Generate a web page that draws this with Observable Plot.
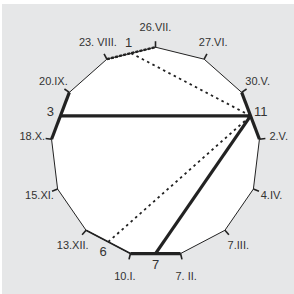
<!DOCTYPE html>
<html><head><meta charset="utf-8">
<script src="https://cdn.jsdelivr.net/npm/d3@7"></script>
<script src="https://cdn.jsdelivr.net/npm/@observablehq/plot@0.6"></script>
<style>
html,body{margin:0;padding:0;background:#fff;overflow:hidden;width:294px;height:294px;}
#chart{position:absolute;left:2px;top:4px;}
#chart svg{background:#e6e7e8;display:block;}
</style></head>
<body><div id="chart"></div>
<script>
// vertex dates, clockwise from top
const dates = ["26.VII.","27.VI.","30.V.","2.V.","4.IV.","7.III.","7. II.","10.I.","13.XII.","15.XI.","18.X.","20.IX.","23. VIII."];
// numbered sides shown
const sideLabels = [1, 3, 6, 7, 11];
const thickSides = [3, 7, 11];
const dashedSides = [1];
const mediumSides = [6];
// chords between side midpoints
const solidChords = [[3, 11], [7, 11]];
const dottedChords = [[1, 11], [6, 11]];

const n = dates.length;
const step = 2 * Math.PI / n;
const verts = dates.map((d, i) => ({label: d, a: i * step, x: Math.sin(i * step), y: Math.cos(i * step)}));
// side k lies between vertex (13-k) and (14-k) mod 13
function side(k) {
  const a = verts[(n - k) % n], b = verts[(n + 1 - k) % n];
  return {k, x1: a.x, y1: a.y, x2: b.x, y2: b.y, mx: (a.x + b.x) / 2, my: (a.y + b.y) / 2};
}
const ring = [...verts, verts[0]];
const tickLen = 1.057;
const labR = (d) => 1.185 + 0.045 * Math.pow(Math.max(0, -d.y), 6);
const sideR = 1.075;
const chord = (p) => { const s = side(p[0]), t = side(p[1]); return {x1: s.mx, y1: s.my, x2: t.mx, y2: t.my}; };
const sideLab = sideLabels.map(k => { const s = side(k); const r = Math.hypot(s.mx, s.my); return {k, x: s.mx / r * sideR, y: s.my / r * sideR}; });

const font = "Liberation Sans";
const plot = Plot.plot({
  width: 292, height: 290,
  margin: 0,
  x: {domain: [-1.4613, 1.3276], axis: null},
  y: {domain: [-1.362, 1.4078], axis: null},
  style: {fontFamily: font, background: "#e6e7e8"},
  marks: [
    Plot.line(ring, {x: "x", y: "y", fill: "white", stroke: "#222", strokeWidth: 1}),
    Plot.link(verts, {x1: "x", y1: "y", x2: d => d.x * tickLen, y2: d => d.y * tickLen, stroke: "#222", strokeWidth: 1.6}),
    Plot.link(mediumSides.map(side), {x1: "x1", y1: "y1", x2: "x2", y2: "y2", stroke: "#222", strokeWidth: 1.6}),
    Plot.link(dashedSides.map(side), {x1: "x1", y1: "y1", x2: "x2", y2: "y2", stroke: "#222", strokeWidth: 2.4, strokeDasharray: "3,1.2"}),
    Plot.link(thickSides.map(side), {x1: "x1", y1: "y1", x2: "x2", y2: "y2", stroke: "#222", strokeWidth: 3.2}),
    Plot.link(dottedChords.map(chord), {x1: "x1", y1: "y1", x2: "x2", y2: "y2", stroke: "#222", strokeWidth: 1.8, strokeDasharray: "2.5,3.5"}),
    Plot.link(solidChords.map(chord), {x1: "x1", y1: "y1", x2: "x2", y2: "y2", stroke: "#222", strokeWidth: 3.2}),
    Plot.text(verts, {x: d => d.x * labR(d), y: d => d.y * labR(d), text: "label", fill: "#333", fontSize: 11}),
    Plot.text(sideLab, {x: "x", y: "y", text: d => String(d.k), fill: "#333", fontSize: 13})
  ]
});
document.getElementById("chart").append(plot);
</script></body></html>
